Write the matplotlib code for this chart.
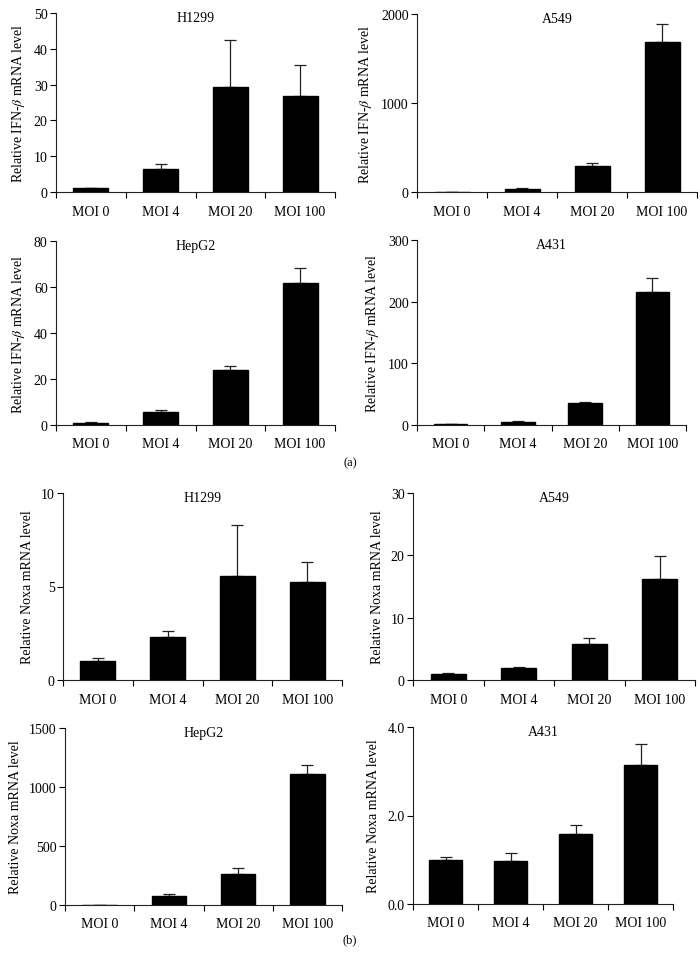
import numpy as np
import matplotlib
matplotlib.use('Agg')
import matplotlib.pyplot as plt
from matplotlib.ticker import FormatStrFormatter

plt.rcParams['font.family'] = 'Liberation Serif'
plt.rcParams['mathtext.fontset'] = 'stix'
plt.rcParams['font.size'] = 10

categories = ['MOI 0', 'MOI 4', 'MOI 20', 'MOI 100']
cell_lines = ['H1299', 'A549', 'HepG2', 'A431']

# (a) IFN-beta
ifn_h1299 = [1.0, 6.3, 29.3, 26.7]
ifn_h1299_err = [0.2, 1.4, 13.2, 8.9]
ifn_a549 = [2, 30, 288, 1682]
ifn_a549_err = [1, 10, 41, 206]
ifn_hepg2 = [1.0, 5.8, 24.0, 61.9]
ifn_hepg2_err = [0.4, 0.6, 1.8, 6.5]
ifn_a431 = [1.0, 4.5, 35.7, 216]
ifn_a431_err = [0.4, 1.2, 2.0, 23]

# (b) Noxa
noxa_h1299 = [1.0, 2.32, 5.58, 5.26]
noxa_h1299_err = [0.16, 0.28, 2.7, 1.03]
noxa_a549 = [1.0, 1.93, 5.83, 16.15]
noxa_a549_err = [0.18, 0.15, 0.85, 3.7]
noxa_hepg2 = [1, 74, 264, 1106]
noxa_hepg2_err = [2, 22, 51, 77]
noxa_a431 = [1.0, 0.98, 1.58, 3.15]
noxa_a431_err = [0.06, 0.17, 0.2, 0.47]

ifn_label = r'Relative IFN-$\beta$ mRNA level'
noxa_label = 'Relative Noxa mRNA level'

W, H = 700, 962
fig = plt.figure(figsize=(W / 100, H / 100), dpi=100)

# left, right, top, bottom in pixels
boxes = [
    (56, 335, 14, 193), (417, 697, 15, 193),
    (56, 335, 242, 426), (417, 686, 241, 426),
    (63, 342, 494, 681), (413, 695, 494, 681),
    (65, 342, 729, 906), (413, 673, 728, 905),
]

panels = [
    (ifn_h1299, ifn_h1299_err, cell_lines[0], ifn_label, [0, 10, 20, 30, 40, 50], '%d'),
    (ifn_a549, ifn_a549_err, cell_lines[1], ifn_label, [0, 1000, 2000], '%d'),
    (ifn_hepg2, ifn_hepg2_err, cell_lines[2], ifn_label, [0, 20, 40, 60, 80], '%d'),
    (ifn_a431, ifn_a431_err, cell_lines[3], ifn_label, [0, 100, 200, 300], '%d'),
    (noxa_h1299, noxa_h1299_err, cell_lines[0], noxa_label, [0, 5, 10], '%d'),
    (noxa_a549, noxa_a549_err, cell_lines[1], noxa_label, [0, 10, 20, 30], '%d'),
    (noxa_hepg2, noxa_hepg2_err, cell_lines[2], noxa_label, [0, 500, 1000, 1500], '%d'),
    (noxa_a431, noxa_a431_err, cell_lines[3], noxa_label, [0.0, 2.0, 4.0], '%.1f'),
]

x = np.arange(len(categories)) + 0.5

for (l, r, t, b), (vals, errs, name, ylab, yt, fmt) in zip(boxes, panels):
    ax = fig.add_axes([l / W, 1 - b / H, (r - l) / W, (b - t) / H])
    ax.bar(x, vals, width=0.5, color='black', edgecolor='black', zorder=2)
    ax.errorbar(x, vals, yerr=[np.zeros(len(errs)), errs], fmt='none',
                ecolor='#222222', elinewidth=0.9, capsize=4, capthick=0.9, zorder=1)
    ax.set_xlim(0, len(categories))
    ax.set_ylim(yt[0], yt[-1])
    ax.set_yticks(yt)
    ax.yaxis.set_major_formatter(FormatStrFormatter(fmt))
    ax.set_xticks(x)
    ax.set_xticklabels(categories)
    ax.set_xticks(np.arange(len(categories) + 1), minor=True)
    ax.tick_params(axis='x', which='major', length=0, pad=9)
    ax.tick_params(axis='x', which='minor', length=4, width=0.8, direction='out')
    ax.tick_params(axis='y', length=4, width=0.8, direction='out', pad=2)
    for s in ['top', 'right']:
        ax.spines[s].set_visible(False)
    for s in ['left', 'bottom']:
        ax.spines[s].set_linewidth(0.8)
        ax.spines[s].set_color('#222222')
    ax.set_ylabel(ylab, labelpad=5)
    ax.text(0.5, 1.01, name, transform=ax.transAxes, ha='center', va='top')

fig.text(350 / W, 1 - 463 / H, '(a)', ha='center', va='center', fontsize=9)
fig.text(350 / W, 1 - 940 / H, '(b)', ha='center', va='center', fontsize=9)

fig.savefig('out.png', dpi=100)
